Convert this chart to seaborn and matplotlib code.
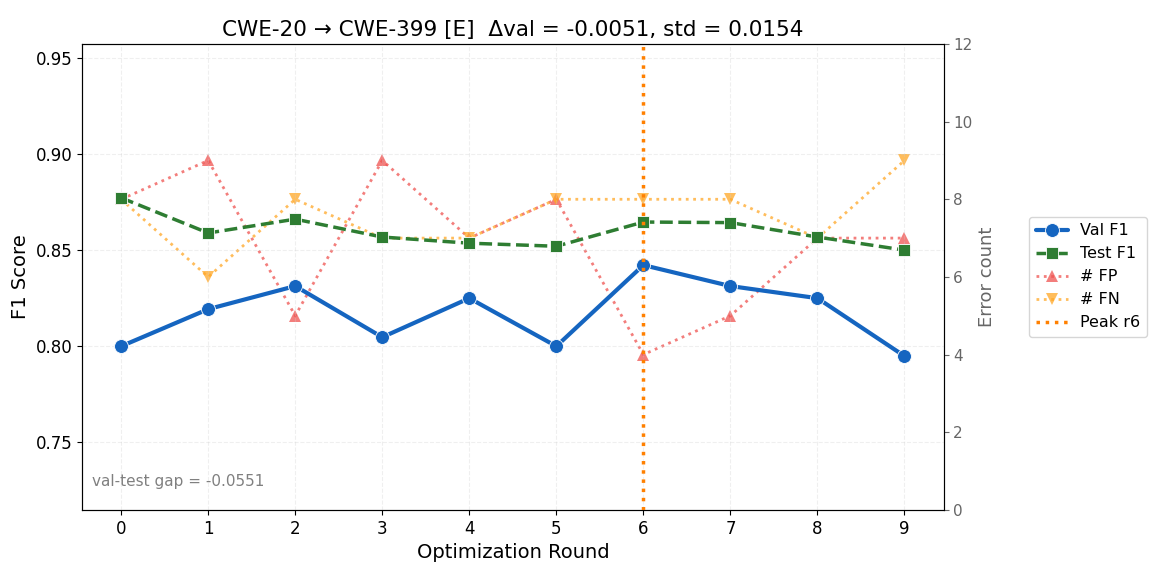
import numpy as np
import pandas as pd
import seaborn as sns
import matplotlib
matplotlib.use("Agg")
import matplotlib.pyplot as plt

# ---- data ----
rounds = [0, 1, 2, 3, 4, 5, 6, 7, 8, 9]
val_f1 = [0.800, 0.8193, 0.8313, 0.8047, 0.8250, 0.800, 0.8422, 0.8313, 0.8250, 0.7949]
test_f1 = [0.8772, 0.8589, 0.8661, 0.8568, 0.8536, 0.8520, 0.8646, 0.8643, 0.8568, 0.8500]
n_fp = [8, 9, 5, 9, 7, 8, 4, 5, 7, 7]
n_fn = [8, 6, 8, 7, 7, 8, 8, 8, 7, 9]
peak_round = 6
title = "CWE-20 \u2192 CWE-399 [E]  \u0394val = -0.0051, std = 0.0154"
gap_text = "val-test gap = -0.0551"

df = pd.DataFrame({"round": rounds, "val": val_f1, "test": test_f1,
                   "fp": n_fp, "fn": n_fn})

sns.set_style("white")
plt.rcParams["font.family"] = ["DejaVu Sans"]
plt.rcParams["text.color"] = "black"
plt.rcParams["axes.labelcolor"] = "black"
plt.rcParams["xtick.color"] = "black"
plt.rcParams["ytick.color"] = "black"

fig, ax = plt.subplots(figsize=(11.55, 5.71), dpi=100)
ax2 = ax.twinx()

# error counts on the right axis
sns.lineplot(data=df, x="round", y="fp", ax=ax2, color="#EF5350", alpha=0.75,
             linestyle=":", linewidth=2, marker="^", markersize=9,
             markeredgewidth=0, label="# FP", legend=False)
sns.lineplot(data=df, x="round", y="fn", ax=ax2, color="#FFA726", alpha=0.75,
             linestyle=":", linewidth=2, marker="v", markersize=9,
             markeredgewidth=0, label="# FN", legend=False)

# F1 curves on the left axis
sns.lineplot(data=df, x="round", y="val", ax=ax, color="#1565C0", linewidth=3,
             marker="o", markersize=10, markeredgecolor="white",
             markeredgewidth=0.6, label="Val F1", legend=False, zorder=5)
sns.lineplot(data=df, x="round", y="test", ax=ax, color="#2E7D32", linewidth=2.5,
             linestyle="--", marker="s", markersize=9, markeredgecolor="white",
             markeredgewidth=0.6, label="Test F1", legend=False, zorder=5)
peak = ax.axvline(peak_round, color="#FF8000", linestyle=":", linewidth=2.5,
                  label=f"Peak r{peak_round}", zorder=6)

# put F1 axis on top of the twin
ax.set_zorder(ax2.get_zorder() + 1)
ax.patch.set_visible(False)

lo = min(min(val_f1), min(test_f1)) - 0.08
hi = max(max(val_f1), max(test_f1)) + 0.08
ax.set_ylim(lo, hi)
ax.set_xlim(-0.45, 9.45)
ax2.set_ylim(0, max(max(n_fp), max(n_fn)) + 3)
ax.set_xticks(rounds)
ax.set_yticks([0.75, 0.80, 0.85, 0.90, 0.95])
ax.yaxis.set_major_formatter(plt.FormatStrFormatter("%.2f"))

ax.grid(True, linestyle="--", alpha=0.3)
ax.set_xlabel("Optimization Round", fontsize=14)
ax.set_ylabel("F1 Score", fontsize=14)
ax2.set_ylabel("Error count", fontsize=13, color="#666666")
ax2.tick_params(axis="y", colors="#666666", labelsize=11)
ax.tick_params(labelsize=12, left=True, bottom=True)
ax2.tick_params(right=True)
for sp in ax.spines.values():
    sp.set_color("black")
ax2.spines["right"].set_color("#555555")
ax.set_title(title, fontsize=15.5)

ax.text(0.012, 0.045, gap_text, transform=ax.transAxes, fontsize=11,
        color="gray", ha="left", va="bottom")

h1, l1 = ax.get_legend_handles_labels()
h2, l2 = ax2.get_legend_handles_labels()
handles = [h1[0], h1[1], h2[0], h2[1], h1[2]]
labels = [l1[0], l1[1], l2[0], l2[1], l1[2]]
ax.legend(handles, labels, loc="center left", bbox_to_anchor=(1.09, 0.5),
          fontsize=11.5, frameon=True)

fig.subplots_adjust(left=0.071, right=0.817, top=0.923, bottom=0.107)
fig.savefig("out.png", dpi=100)
